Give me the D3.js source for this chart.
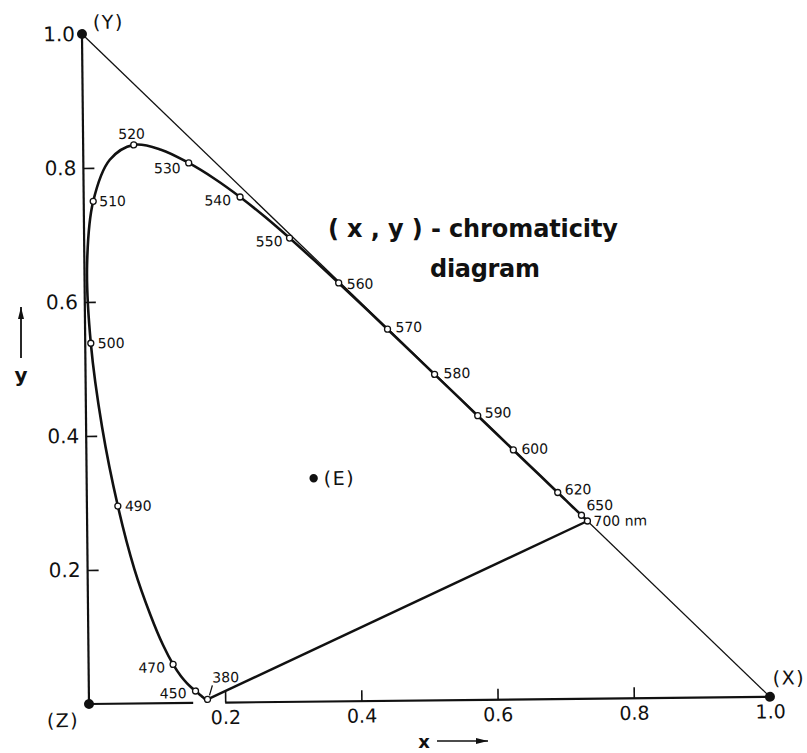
<!DOCTYPE html>
<html>
<head>
<meta charset="utf-8">
<script src="https://cdn.jsdelivr.net/npm/d3@7"></script>
<style>
  body { margin: 0; background: #fff; }
  svg { display: block; }
</style>
</head>
<body>
<svg id="chart" width="807" height="753"></svg>
<script>
// CIE 1931 spectral locus: wavelength (nm) and chromaticity coordinates
const wavelengths = [380, 390, 400, 410, 420, 425, 430, 435, 440, 445, 450, 455, 460, 465, 470, 475,
  480, 485, 490, 495, 500, 505, 510, 515, 520, 525, 530, 535, 540, 545, 550, 555, 560, 565, 570,
  575, 580, 585, 590, 595, 600, 605, 610, 615, 620, 625, 630, 640, 650, 660, 680, 700];
const locusX = [0.1741, 0.1738, 0.1733, 0.1726, 0.1714, 0.1703, 0.1689, 0.1669, 0.1644, 0.1611,
  0.1566, 0.1510, 0.1440, 0.1355, 0.1241, 0.1096, 0.0913, 0.0687, 0.0454, 0.0235, 0.0082, 0.0039,
  0.0139, 0.0389, 0.0743, 0.1142, 0.1547, 0.1929, 0.2296, 0.2658, 0.3016, 0.3373, 0.3731, 0.4087,
  0.4441, 0.4788, 0.5125, 0.5448, 0.5752, 0.6029, 0.6270, 0.6482, 0.6658, 0.6801, 0.6915, 0.7006,
  0.7079, 0.7190, 0.7260, 0.7300, 0.7334, 0.7347];
const locusY = [0.0050, 0.0049, 0.0048, 0.0048, 0.0051, 0.0058, 0.0069, 0.0086, 0.0109, 0.0138,
  0.0177, 0.0227, 0.0297, 0.0399, 0.0578, 0.0868, 0.1327, 0.2007, 0.2950, 0.4127, 0.5384, 0.6548,
  0.7502, 0.8120, 0.8338, 0.8262, 0.8059, 0.7816, 0.7543, 0.7243, 0.6923, 0.6589, 0.6245, 0.5896,
  0.5547, 0.5202, 0.4866, 0.4544, 0.4242, 0.3965, 0.3725, 0.3514, 0.3340, 0.3197, 0.3083, 0.2993,
  0.2920, 0.2809, 0.2740, 0.2700, 0.2666, 0.2653];

// wavelengths marked with an open circle and a label
const markedWavelengths = [380, 450, 470, 490, 500, 510, 520, 530, 540, 550, 560, 570, 580, 590, 600, 620, 650, 700];
const markedText = ["380", "450", "470", "490", "500", "510", "520", "530", "540", "550", "560", "570", "580", "590", "600", "620", "650", "700 nm"];

const xTicks = [0.2, 0.4, 0.6, 0.8, 1.0];
const yTicks = [0.2, 0.4, 0.6, 0.8, 1.0];

// primaries at the triangle corners and the equal-energy white point
const cornerNames = ["(X)", "(Y)", "(Z)"];
const cornerX = [1, 0, 0];
const cornerY = [0, 1, 0];
const whiteName = "(E)";
const whiteX = 1 / 3;
const whiteY = 1 / 3;

// ---------------------------------------------------------------------------
const svg = d3.select("#chart");
const x = d3.scaleLinear().domain([0, 1]).range([89, 770]);
const y = d3.scaleLinear().domain([0, 1]).range([704, 34]);

const labelFont = "DejaVu Sans";
const ink = "#111";

// the whole plate sits with a slight counter-clockwise tilt
const g = svg.append("g")
  .attr("transform", `rotate(-0.6,${x(0)},${y(0)})`);

const locus = wavelengths.map((w, i) => ({ w, x: locusX[i], y: locusY[i] }));
const byWave = new Map(locus.map(d => [d.w, d]));

// axes
const xAxis = d3.axisBottom(x).tickValues(xTicks).tickSize(-11).tickPadding(8)
  .tickFormat(d3.format(".1f"));
const gx = g.append("g").attr("transform", `translate(0,${y(0)})`).call(xAxis);
gx.select(".domain").remove();
gx.selectAll(".tick line").filter(d => d === 1).remove();
gx.selectAll(".tick line").attr("stroke", ink).attr("stroke-width", 1.6);
gx.selectAll(".tick text").attr("font-family", labelFont).attr("font-size", 19).attr("fill", ink);

const yAxis = d3.axisLeft(y).tickValues(yTicks).tickSize(-11).tickPadding(7)
  .tickFormat(d3.format(".1f"));
const gy = g.append("g").attr("transform", `translate(${x(0)},0)`).call(yAxis);
gy.select(".domain").remove();
gy.selectAll(".tick line").filter(d => d === 1).remove();
gy.selectAll(".tick line").attr("stroke", ink).attr("stroke-width", 1.6);
gy.selectAll(".tick text").attr("font-family", labelFont).attr("font-size", 20).attr("fill", ink);

// axis lines: y from Z to Y, x from Z to X with a break near the violet end
g.append("line")
  .attr("x1", x(0)).attr("y1", y(0)).attr("x2", x(0)).attr("y2", y(1))
  .attr("stroke", ink).attr("stroke-width", 2.2);
g.append("line")
  .attr("x1", x(0)).attr("y1", y(0)).attr("x2", x(0.153)).attr("y2", y(0))
  .attr("stroke", ink).attr("stroke-width", 2.2);
g.append("line")
  .attr("x1", x(0.2)).attr("y1", y(0)).attr("x2", x(1)).attr("y2", y(0))
  .attr("stroke", ink).attr("stroke-width", 2.2);

// hypotenuse x + y = 1
g.append("line")
  .attr("x1", x(0)).attr("y1", y(1)).attr("x2", x(1)).attr("y2", y(0))
  .attr("stroke", ink).attr("stroke-width", 1.3);

// purple line joining the two ends of the spectrum
const first = locus[0], last = locus[locus.length - 1];
g.append("line")
  .attr("x1", x(first.x)).attr("y1", y(first.y)).attr("x2", x(last.x)).attr("y2", y(last.y))
  .attr("stroke", ink).attr("stroke-width", 2.4);

// spectral locus
g.append("path")
  .datum(locus)
  .attr("d", d3.line().x(d => x(d.x)).y(d => y(d.y)).curve(d3.curveCatmullRom.alpha(0.5)))
  .attr("fill", "none").attr("stroke", ink).attr("stroke-width", 2.6)
  .attr("stroke-linejoin", "round");

// label placement around each marker: [dx, dy, anchor]
const place = {
  380: [5, -22, "start"], 450: [-9, 2, "end"], 470: [-8, 3, "end"], 490: [7, 0, "start"],
  500: [7, 0, "start"], 510: [6, 0, "start"], 520: [-2, -11, "middle"], 530: [-8, 5, "end"],
  540: [-9, 3, "end"], 550: [-7, 3, "end"], 560: [8, 1, "start"], 570: [8, -2, "start"],
  580: [9, -1, "start"], 590: [7, -3, "start"], 600: [8, -1, "start"], 620: [7, -3, "start"],
  650: [5, -10, "start"], 700: [6, 0, "start"]
};

const marks = markedWavelengths.map((w, i) => ({ w, text: markedText[i], p: byWave.get(w) }));

// leader from the 380 label down to its marker
const p380 = byWave.get(380);
g.append("line")
  .attr("x1", x(p380.x) + 5).attr("y1", y(p380.y) - 14)
  .attr("x2", x(p380.x) + 2).attr("y2", y(p380.y) - 4)
  .attr("stroke", ink).attr("stroke-width", 1.3);

g.selectAll("circle.mark")
  .data(marks)
  .join("circle")
  .attr("class", "mark")
  .attr("cx", d => x(d.p.x)).attr("cy", d => y(d.p.y)).attr("r", 3)
  .attr("fill", "#fff").attr("stroke", ink).attr("stroke-width", 1.3);

g.selectAll("text.wl")
  .data(marks)
  .join("text")
  .attr("class", "wl")
  .attr("x", d => x(d.p.x) + place[d.w][0])
  .attr("y", d => y(d.p.y) + place[d.w][1])
  .attr("dy", "0.36em")
  .attr("text-anchor", d => place[d.w][2])
  .attr("font-family", labelFont).attr("font-size", 14).attr("fill", ink)
  .text(d => d.text);

// corner dots and labels
const corners = cornerNames.map((n, i) => ({ n, x: cornerX[i], y: cornerY[i] }));
const cornerPlace = { "(X)": [3, -19, "start"], "(Y)": [11, -12, "start"], "(Z)": [-10, 16, "end"] };
g.selectAll("circle.corner")
  .data(corners)
  .join("circle")
  .attr("class", "corner")
  .attr("cx", d => x(d.x)).attr("cy", d => y(d.y)).attr("r", 5).attr("fill", ink);
g.selectAll("text.corner")
  .data(corners)
  .join("text")
  .attr("class", "corner")
  .attr("x", d => x(d.x) + cornerPlace[d.n][0])
  .attr("y", d => y(d.y) + cornerPlace[d.n][1])
  .attr("dy", "0.36em")
  .attr("text-anchor", d => cornerPlace[d.n][2])
  .attr("font-family", labelFont).attr("font-size", 19).attr("letter-spacing", 1.5)
  .attr("fill", ink)
  .text(d => d.n);

// equal-energy white
g.append("circle").attr("cx", x(whiteX)).attr("cy", y(whiteY)).attr("r", 4.2).attr("fill", ink);
g.append("text")
  .attr("x", x(whiteX) + 10).attr("y", y(whiteY)).attr("dy", "0.36em")
  .attr("font-family", labelFont).attr("font-size", 19).attr("letter-spacing", 1.5)
  .attr("fill", ink).text(whiteName);

// title
svg.append("text")
  .attr("x", 328).attr("y", 237)
  .attr("textLength", 290).attr("lengthAdjust", "spacing")
  .attr("font-family", labelFont).attr("font-weight", "bold").attr("font-size", 24)
  .attr("fill", ink)
  .text("( x , y ) - chromaticity");
svg.append("text")
  .attr("x", 430).attr("y", 277)
  .attr("textLength", 110).attr("lengthAdjust", "spacing")
  .attr("font-family", labelFont).attr("font-weight", "bold").attr("font-size", 24)
  .attr("fill", ink)
  .text("diagram");

// axis names with arrows
const defs = svg.append("defs");
defs.append("marker")
  .attr("id", "arrowhead").attr("viewBox", "0 0 12 6")
  .attr("refX", 12).attr("refY", 3)
  .attr("markerWidth", 12).attr("markerHeight", 6)
  .attr("markerUnits", "userSpaceOnUse").attr("orient", "auto")
  .append("path").attr("d", "M0,0 L12,3 L0,6 Z").attr("fill", ink);

svg.append("text")
  .attr("x", 424).attr("y", 742).attr("dy", "0.36em").attr("text-anchor", "middle")
  .attr("font-family", labelFont).attr("font-weight", "bold").attr("font-size", 18)
  .attr("fill", ink).text("x");
svg.append("line")
  .attr("x1", 437).attr("y1", 741).attr("x2", 488).attr("y2", 741)
  .attr("stroke", ink).attr("stroke-width", 1.6).attr("marker-end", "url(#arrowhead)");

svg.append("text")
  .attr("x", 21).attr("y", 375).attr("dy", "0.36em").attr("text-anchor", "middle")
  .attr("font-family", labelFont).attr("font-weight", "bold").attr("font-size", 20)
  .attr("fill", ink).text("y");
svg.append("line")
  .attr("x1", 21).attr("y1", 358).attr("x2", 21).attr("y2", 307)
  .attr("stroke", ink).attr("stroke-width", 1.8).attr("marker-end", "url(#arrowhead)");
</script>
</body>
</html>
